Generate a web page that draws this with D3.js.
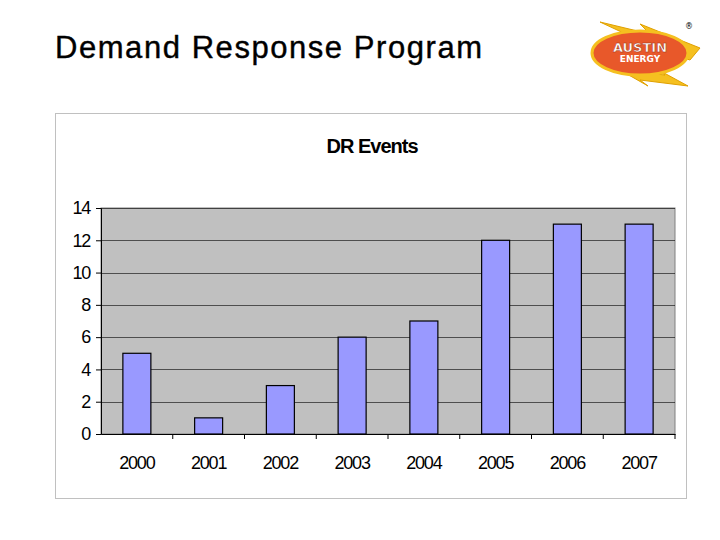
<!DOCTYPE html>
<html><head><meta charset="utf-8">
<script src="https://cdn.jsdelivr.net/npm/d3@7"></script>
<style>body{margin:0;background:#fff}</style>
</head><body><div id="display"></div>
<script>
const years = ["2000","2001","2002","2003","2004","2005","2006","2007"]
const events = [5, 1, 3, 6, 7, 12, 13, 13]
const yTicks = [0, 2, 4, 6, 8, 10, 12, 14]

function chart(parentNode) {
  const svg = d3.create("svg").attr("width", 720).attr("height", 540)

  svg.append("text").attr("x", 55).attr("y", 58)
      .attr("font-family", "Liberation Sans, Arial").attr("font-size", 31)
      .attr("stroke", "#000").attr("stroke-width", 0.4)
      .attr("textLength", 427).attr("lengthAdjust", "spacing")
      .text("Demand Response Program")

  // logo
  const logo = svg.append("g")
  logo.append("path").attr("d", "M600,22 L650,34 L640,24 L700,48 L690,60 L660,50 Z").attr("fill", "#f5c020").attr("stroke", "#e0a000")
  logo.append("path").attr("d", "M620,70 L665,75 L655,68 L688,86 L640,80 L648,86 Z").attr("fill", "#f5c020").attr("stroke", "#e0a000")
  logo.append("ellipse").attr("cx", 640).attr("cy", 53).attr("rx", 48).attr("ry", 22)
      .attr("fill", "#e8582a").attr("stroke", "#f5c020").attr("stroke-width", 3)
  logo.append("text").attr("x", 640).attr("y", 52).attr("text-anchor", "middle")
      .attr("font-family", "DejaVu Sans").attr("font-weight", "bold").attr("font-size", 13)
      .attr("fill", "#fff").attr("stroke", "#a03010").attr("stroke-width", 0.5).text("AUSTIN")
  logo.append("text").attr("x", 640).attr("y", 62).attr("text-anchor", "middle")
      .attr("font-family", "DejaVu Sans").attr("font-weight", "bold").attr("font-size", 9)
      .attr("fill", "#fff").text("ENERGY")
  logo.append("text").attr("x", 689).attr("y", 29).attr("text-anchor", "middle")
      .attr("font-family", "DejaVu Sans").attr("font-size", 8).text("®")

  svg.append("rect").attr("x", 55.5).attr("y", 113.5).attr("width", 631).attr("height", 385)
      .attr("fill", "#fff").attr("stroke", "#c0c0c0")

  svg.append("text").attr("x", 372).attr("y", 153).attr("text-anchor", "middle")
      .attr("font-family", "Liberation Sans, Arial").attr("font-weight", "bold").attr("font-size", 20)
      .attr("letter-spacing", -1).text("DR Events")

  const left = 101, right = 675, top = 208, bottom = 434
  const x = d3.scaleBand(years, [left, right])
  const y = d3.scaleLinear([0, 14], [bottom, top])

  svg.append("rect").attr("x", left).attr("y", top).attr("width", right - left).attr("height", bottom - top)
      .attr("fill", "#c0c0c0").attr("stroke", "#808080")

  svg.append("g").selectAll("line").data(yTicks.slice(1)).join("line")
      .attr("x1", left).attr("x2", right).attr("y1", d => Math.round(y(d)) + 0.5).attr("y2", d => Math.round(y(d)) + 0.5)
      .attr("stroke", "#000").attr("stroke-width", 0.6)

  svg.append("g").selectAll("rect").data(events).join("rect")
      .attr("x", (d, i) => x(years[i]) + x.bandwidth() / 2 - 14)
      .attr("width", 28)
      .attr("y", d => y(d)).attr("height", d => bottom - y(d))
      .attr("fill", "#9999ff").attr("stroke", "#000").attr("stroke-width", 1.2)

  const yAxis = svg.append("g").attr("transform", `translate(${left},0)`)
      .call(d3.axisLeft(y).tickValues(yTicks).tickSize(5).tickPadding(6))
  const xAxis = svg.append("g").attr("transform", `translate(0,${bottom})`)
      .call(d3.axisBottom(x).tickSize(0).tickPadding(22))
  xAxis.selectAll(".tick").append("line").attr("x1", x.bandwidth() / 2).attr("x2", x.bandwidth() / 2).attr("y2", 5).attr("stroke", "#000")
  for (const a of [yAxis, xAxis]) {
    a.selectAll("text").attr("font-family", "Liberation Sans, Arial").attr("font-size", 18)
        .attr("letter-spacing", -1.2).attr("fill", "#000")
  }
  xAxis.select(".domain").attr("stroke", "#000")

  parentNode.appendChild(svg.node())
}
chart(document.getElementById("display"))
</script></body></html>
